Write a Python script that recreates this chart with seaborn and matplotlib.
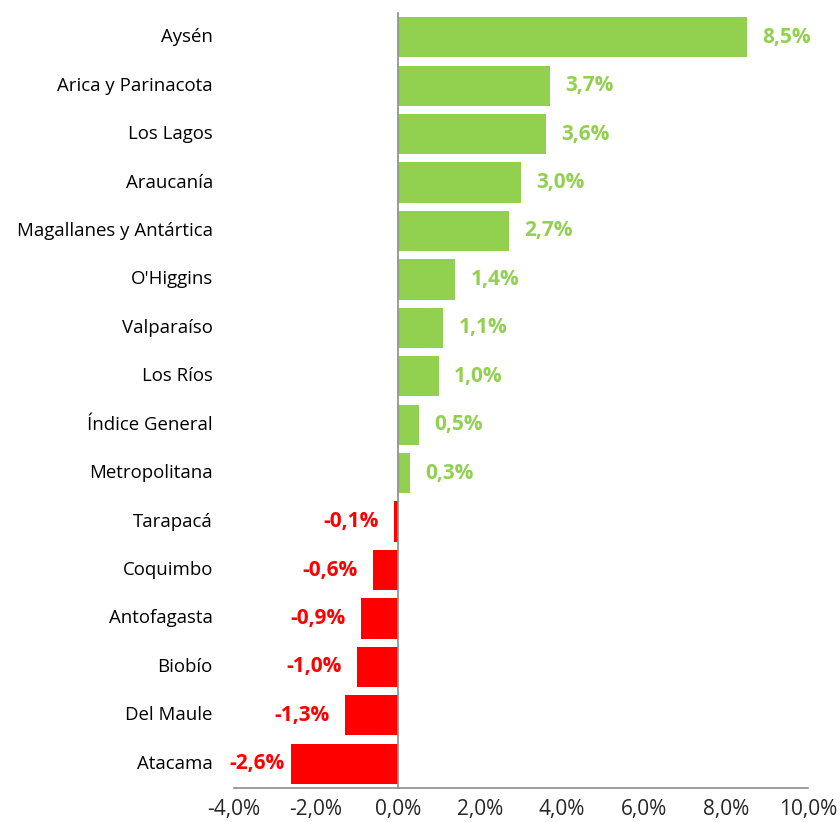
import numpy as np
import matplotlib
matplotlib.use('Agg')
import matplotlib.pyplot as plt
import matplotlib.ticker as mticker
import seaborn as sns

sns.set_style('white')
plt.rcParams['font.family'] = ['Open Sans', 'DejaVu Sans']

regions = ['Aysén', 'Arica y Parinacota', 'Los Lagos', 'Araucanía',
           'Magallanes y Antártica', "O'Higgins", 'Valparaíso', 'Los Ríos',
           'Índice General', 'Metropolitana', 'Tarapacá', 'Coquimbo',
           'Antofagasta', 'Biobío', 'Del Maule', 'Atacama']
variation = [8.5, 3.7, 3.6, 3.0, 2.7, 1.4, 1.1, 1.0,
             0.5, 0.3, -0.1, -0.6, -0.9, -1.0, -1.3, -2.6]

GREEN = '#92D050'
RED = '#FF0000'
GREY = '#8C8C8C'
colors = [GREEN if v >= 0 else RED for v in variation]

fig = plt.figure(figsize=(8.4, 8.22), dpi=100)
ax = fig.add_axes([234 / 840, 1 - 788 / 822, 574 / 840, 775 / 822])

sns.barplot(x=variation, y=regions, hue=regions, palette=colors,
            orient='h', width=0.83, saturation=1, legend=False,
            linewidth=0, ax=ax)

ax.set_xlim(-4, 10)
ax.set_ylim(len(regions) - 0.5, -0.5)
ax.xaxis.set_major_locator(mticker.MultipleLocator(2))
ax.xaxis.set_major_formatter(
    mticker.FuncFormatter(lambda x, p: f'{x:.1f}%'.replace('.', ',')))

# value labels on the bars (long negative bar gets a tighter gap, like excel)
for bar, v, c in zip(ax.patches, variation, colors):
    lbl = f'{v:.1f}%'.replace('.', ',')
    if v >= 0:
        off = 11
    else:
        off = -5 if v < -2 else -11
    ax.annotate(lbl, (v, bar.get_y() + bar.get_height() / 2),
                xytext=(off, 0), textcoords='offset points',
                ha='left' if v >= 0 else 'right', va='center',
                color=c, fontsize=15, fontweight='bold')

# y axis sits at zero, region names stay on the left
for s in ['top', 'right']:
    ax.spines[s].set_visible(False)
ax.spines['left'].set_position(('data', 0))
ax.spines['left'].set_color(GREY)
ax.spines['bottom'].set_color(GREY)
ax.spines['left'].set_linewidth(1.2)
ax.spines['bottom'].set_linewidth(1.2)
ax.set_yticks(np.arange(len(regions)) - 0.5, minor=False)
ax.set_yticklabels([])
ax.tick_params(axis='y', length=5, color=GREY, width=1.2, direction='out')
ax.tick_params(axis='x', length=5, color=GREY, width=1.2, direction='out',
               labelsize=15, pad=3)
ax.set_xlabel('')
ax.set_ylabel('')

for i, name in enumerate(regions):
    ax.text(-0.037, i, name, transform=ax.get_yaxis_transform(),
            ha='right', va='center', fontsize=13.4, color='black')

plt.savefig('out.png', dpi=100)
plt.close()
